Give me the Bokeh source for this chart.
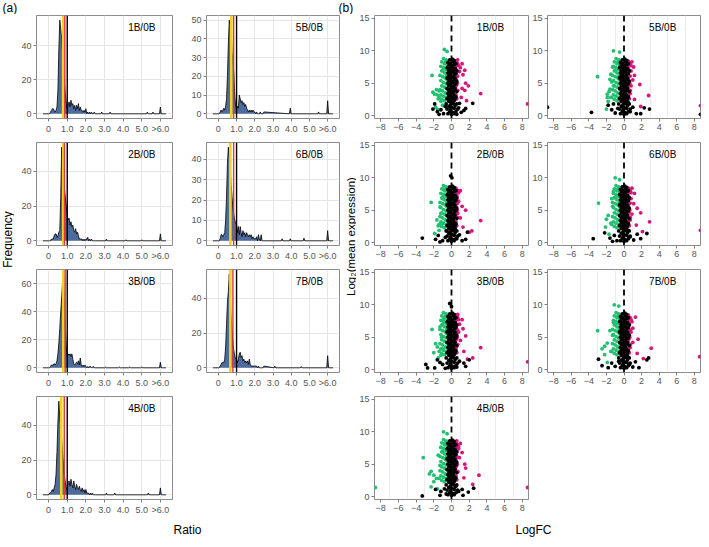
import math
from bokeh.plotting import figure
from bokeh.models import Range1d, FixedTicker, Label, Span
from bokeh.layouts import row, column
from bokeh.embed import file_html
from bokeh.resources import INLINE

FONT = "Liberation Sans"

# ---------------- (a) histogram data ----------------
ratio_bins = [round(0.05 * i, 2) for i in range(51)]  # bin centres 0.00 .. 2.50
ratio_ticks = [0, 1, 2, 3, 4, 5, 6]
ratio_tick_labels = ["0", "1.0", "2.0", "3.0", "4.0", "5.0", ">6.0"]

h1B = [0,0,1,2,3,3,2,1,2,4,14,38,55,50,44,36,26,18,12,6,3,5,7,4,8,5,6,3,5,2,5,3,6,2,4,2,2,1,2,1,3,0,1,0,1,0,1,0,0,1,0]
h5B = [0,0,1,2,1,2,3,2,4,8,20,38,50,48,45,33,28,22,10,4,3,4,3,10,8,6,7,5,6,4,5,3,2,1,2,1,2,1,2,1,1,0,1,0,0,0,1,0,0,0,1]
h2B = [0,0,0,1,1,1,3,4,4,2,3,5,6,25,54,48,38,30,25,20,15,12,13,9,11,8,9,6,5,7,4,5,3,1,1,1,1,0,1,0,1,1,2,0,1,0,1,0,0,0,0]
h6B = [0,0,1,3,3,2,3,4,10,22,38,46,42,36,28,22,16,13,10,9,8,4,7,3,7,4,2,5,3,4,2,4,3,2,3,2,3,1,2,1,1,1,2,0,3,1,0,3,0,0,0]
h3B = [0,0,1,2,2,2,3,2,3,5,10,18,28,40,50,62,67,45,28,15,8,10,9,10,8,10,6,3,2,3,4,3,5,2,7,2,1,2,1,2,1,0,1,0,1,1,0,0,1,0,0]
h7B = [0,0,1,2,3,3,3,5,12,25,38,44,54,40,30,22,15,10,7,5,5,3,5,8,9,6,7,4,5,3,4,3,4,2,5,2,1,1,1,1,1,1,1,0,1,0,0,0,0,0,1]
h4B = [0,1,1,2,3,2,4,6,12,25,42,54,44,40,32,24,17,11,7,4,3,7,8,5,9,6,4,8,5,3,6,4,3,5,3,2,4,2,3,1,3,1,1,1,0,1,0,1,0,0,0]

# sparse far-right bins (position, count)
spk1B_x = [2.85, 3.3, 5.3, 5.6, 6.0];        spk1B_y = [1, 1, 1, 1, 4]
spk5B_x = [3.95, 5.5, 6.0];                  spk5B_y = [3, 1, 7]
spk2B_x = [3.1, 4.15, 5.0, 6.0];             spk2B_y = [1, 0.6, 0.6, 4]
spk6B_x = [3.5, 3.95, 4.7, 6.0];             spk6B_y = [1, 1, 1.3, 5]
spk3B_x = [3.05, 3.8, 4.35, 5.0, 6.0];       spk3B_y = [0.6, 0.6, 0.6, 0.6, 4]
spk7B_x = [3.1, 4.55, 6.0];                  spk7B_y = [1, 0.7, 7]
spk4B_x = [3.1, 3.55, 5.35, 6.0];            spk4B_y = [1, 1, 1, 4]

# reference lines (yellow, red, black)
yellow_line = {"1B/0B": 0.78, "5B/0B": 0.71, "2B/0B": 0.79, "6B/0B": 0.66, "3B/0B": 0.79, "7B/0B": 0.66, "4B/0B": 0.68}
red_line    = {"1B/0B": 0.87, "5B/0B": 0.84, "2B/0B": 0.85, "6B/0B": 0.84, "3B/0B": 0.89, "7B/0B": 0.80, "4B/0B": 0.84}
black_line = 1.0

hist_yticks = {
    "1B/0B": [0, 20, 40], "5B/0B": [0, 10, 20, 30, 40, 50],
    "2B/0B": [0, 20, 40], "6B/0B": [0, 10, 20, 30, 40],
    "3B/0B": [0, 20, 40, 60], "7B/0B": [0, 20, 40], "4B/0B": [0, 20, 40],
}

# ---------------- (b) volcano data ----------------
logfc_ticks = [-8, -6, -4, -2, 0, 2, 4, 6, 8]
expr_ticks = [0, 5, 10, 15]

core_black = [(-0.2,8.6),(0.1,8.7),(0.3,8.5),(-0.4,8.2),(-0.1,8.1),(0.2,8.3),(0.5,8.0),(-0.3,7.8),(0.0,7.7),(0.3,7.9),
              (-0.5,7.4),(-0.2,7.3),(0.1,7.5),(0.4,7.3),(-0.3,7.0),(0.0,6.9),(0.3,7.1),(0.6,6.9),(-0.4,6.6),(-0.1,6.5),
              (0.2,6.7),(0.5,6.5),(-0.3,6.2),(0.0,6.1),(0.3,6.3),(-0.5,5.8),(-0.2,5.7),(0.1,5.9),(0.4,5.8),(-0.3,5.4),
              (0.0,5.3),(0.3,5.5),(0.6,5.3),(-0.4,5.0),(-0.1,4.9),(0.2,5.1),(0.5,4.9),(-0.3,4.6),(0.0,4.5),(0.3,4.7),
              (-0.5,4.2),(-0.2,4.1),(0.1,4.3),(0.4,4.2),(-0.3,3.8),(0.0,3.7),(0.3,3.9),(0.6,3.7),(-0.4,3.4),(-0.1,3.3),
              (0.2,3.5),(-0.3,3.0),(0.0,2.9),(0.3,3.1),(0.5,2.9),(-0.5,2.6),(-0.2,2.5),(0.1,2.7),(0.4,2.6),(-0.3,2.2),
              (0.0,2.1),(0.3,2.3),(-0.6,1.8),(-0.1,1.7),(0.2,1.9),(0.6,1.8),(-0.3,1.4),(0.0,1.3),(0.4,1.5),(-0.5,1.0),
              (-0.1,0.9),(0.3,1.1),(0.7,1.0),(-0.2,0.6),(0.1,0.5),(0.5,0.6),(-0.4,0.3),(0.0,0.2),(0.3,0.3)]
core_green = [(-0.9,8.8),(-0.6,8.6),(-1.1,8.3),(-0.8,8.0),(-0.5,7.9),(-1.2,7.6),(-0.9,7.4),(-0.6,7.1),(-1.1,6.9),(-0.8,6.6),
              (-0.5,6.4),(-1.3,6.2),(-1.0,6.0),(-0.7,5.8),(-0.5,5.5),(-1.2,5.4),(-0.9,5.1),(-0.6,4.9),(-1.1,4.6),(-0.8,4.4),
              (-0.5,4.1),(-1.3,4.0),(-1.0,3.8),(-0.7,3.5),(-1.2,3.2),(-0.9,3.0),(-0.6,2.8),(-1.1,2.5),(-0.8,2.3),(-1.4,2.8),
              (-0.6,6.0),(-0.7,8.3),(-1.0,7.0),(-0.5,3.4)]
core_magenta = [(0.5,8.4),(0.7,8.0),(0.45,7.5),(0.6,7.0),(0.45,6.5),(0.7,6.1),(0.5,5.6),(0.65,5.0),(0.45,4.4),(0.7,3.9),
                (0.5,3.2),(0.6,2.6),(0.8,7.7),(0.55,4.7)]

green_1B = [(-0.8,10.2),(-0.5,9.9),(-2.2,6.2),(-1.7,4.0),(-1.9,3.3),(-2.1,3.6),(-1.6,3.2),(-1.4,3.8),(-1.8,1.3),(-1.6,1.0),(-1.0,1.6),(-1.2,2.2),(-1.5,2.6)]
magenta_1B = [(0.7,8.6),(1.2,8.0),(1.5,7.0),(1.0,7.4),(1.3,6.3),(0.9,6.8),(1.6,5.0),(1.9,4.6),(1.2,4.2),(1.5,3.9),(3.3,3.4),(1.7,2.3),(1.1,2.8),(8.6,1.8)]
black_1B = [(-1.9,1.8),(-2.1,1.0),(-1.6,0.6),(-1.2,0.9),(-0.9,0.3),(-1.4,0.2),(0.8,1.2),(1.1,0.5),(1.4,0.8),(0.9,1.9),(2.4,1.9),(1.6,1.1),(0.6,0.2),(-0.7,1.4)]

green_5B = [(-1.2,10.0),(-0.5,9.8),(-3.0,6.0),(-1.9,3.3),(-1.6,4.1),(-2.0,1.0),(-1.8,2.2),(-1.5,2.8),(-1.7,3.7),(-1.4,5.2),(-1.5,6.4),(-1.3,7.5),(-1.6,5.6),(-1.2,4.6),(-1.9,2.8)]
magenta_5B = [(0.9,8.3),(1.1,7.5),(0.8,6.9),(1.2,6.2),(1.0,5.5),(0.8,4.6),(1.8,4.8),(2.8,3.1),(1.9,1.4),(1.2,2.5),(0.7,3.4),(8.7,1.55)]
black_5B = [(-3.7,0.5),(-1.8,1.6),(-1.4,0.9),(-1.0,0.4),(-0.7,1.1),(0.7,0.6),(1.0,1.3),(1.4,0.3),(1.9,0.3),(2.3,1.2),(2.9,1.0),(-8.7,1.3),(8.7,0.2),(-1.2,1.8),(0.5,2.0)]

green_2B = [(-2.3,6.2),(-1.65,3.5),(-1.9,1.4),(-1.5,2.6),(-1.2,4.5),(-1.0,6.8),(-0.9,8.2),(-1.3,5.5),(-1.1,3.0),(-1.4,1.9)]
magenta_2B = [(1.0,8.0),(0.6,7.3),(0.8,6.4),(1.2,5.6),(1.6,5.0),(0.7,4.5),(1.0,3.8),(3.3,3.4),(1.3,2.4),(2.3,1.8),(2.0,1.6)]
black_2B = [(-0.1,10.3),(0.05,10.0),(-3.3,0.7),(-1.8,0.5),(-1.5,1.1),(-1.0,0.3),(-0.7,0.8),(0.6,0.6),(0.9,1.2),(1.2,0.3),(1.6,0.5),(1.8,1.6),(0.4,2.2),(-0.5,1.8),(-1.3,0.1)]

green_6B = [(-1.0,10.0),(-0.5,9.7),(-2.9,6.1),(-2.0,3.6),(-1.8,4.2),(-2.1,2.4),(-1.7,1.3),(-1.5,3.0),(-1.3,5.6),(-1.4,6.8),(-1.2,7.9)]
magenta_6B = [(0.9,8.4),(1.2,7.6),(0.8,6.8),(1.1,6.0),(1.5,5.3),(0.9,4.4),(1.9,4.6),(2.9,3.2),(1.4,2.7),(2.1,1.7),(0.7,3.5),(8.7,1.9)]
black_6B = [(-3.5,0.6),(-2.2,1.5),(-1.6,0.7),(-1.1,1.1),(-0.8,0.3),(0.7,0.9),(1.1,0.4),(1.5,1.3),(1.9,0.6),(2.6,1.4),(-1.3,0.2),(0.5,1.9)]

green_3B = [(-2.2,6.2),(-1.8,4.0),(-1.6,3.5),(-2.0,2.6),(-1.2,2.2),(-1.5,1.8),(-1.1,5.0),(-0.9,7.8),(-1.3,6.6),(-1.0,3.2)]
magenta_3B = [(0.7,8.5),(1.2,7.7),(0.9,7.0),(1.3,6.3),(0.8,5.8),(1.6,5.2),(1.0,4.5),(0.6,3.6),(3.3,3.4),(1.4,2.8),(2.4,1.8),(1.8,1.6),(8.6,1.2)]
black_3B = [(-0.2,10.2),(0.0,9.7),(-2.9,0.8),(-2.7,0.25),(-1.9,0.25),(-1.6,1.5),(-1.0,0.8),(-0.7,0.2),(0.6,0.4),(0.9,1.3),(1.4,1.0),(1.6,0.5),(2.0,1.5),(-1.3,1.1)]

green_7B = [(-1.1,10.0),(-0.6,9.8),(-3.0,6.0),(-2.5,3.2),(-2.2,3.6),(-1.9,4.1),(-2.2,2.3),(-1.9,1.1),(-1.5,2.8),(-1.3,5.3),(-1.2,7.3),(-1.6,6.0)]
magenta_7B = [(1.3,8.1),(0.9,7.4),(1.0,6.4),(0.8,5.8),(1.6,4.7),(1.0,4.2),(3.1,3.3),(2.2,1.7),(1.5,2.5),(0.7,3.4),(8.6,2.0)]
black_7B = [(-2.9,1.6),(-2.5,0.6),(-1.8,0.3),(-1.4,1.0),(-1.0,0.5),(-0.6,1.3),(0.6,0.8),(1.0,0.4),(1.3,1.2),(1.7,0.3),(2.6,1.5),(2.8,1.8),(0.4,2.1)]

green_4B = [(-0.9,10.0),(-0.5,9.7),(-3.2,6.0),(-2.3,3.9),(-2.5,3.5),(-2.0,3.3),(-2.0,2.3),(-2.3,1.5),(-1.7,2.8),(-1.6,1.2),(-1.3,4.8),(-1.5,6.4),(-1.2,7.6),(-8.6,1.4)]
magenta_4B = [(0.6,8.6),(1.0,8.2),(0.8,7.4),(1.2,6.8),(0.9,6.0),(1.5,5.0),(1.6,4.4),(3.1,3.3),(2.4,1.9),(1.4,2.9),(0.7,3.8),(8.6,1.4)]
black_4B = [(-3.3,0.1),(-1.8,1.1),(-1.2,0.8),(-0.8,1.2),(-0.6,0.4),(0.8,0.8),(1.2,1.1),(1.3,0.2),(1.9,0.7),(2.5,1.3),(-1.3,0.2),(0.5,1.6)]

# ---------------- styling ----------------
FILL_BLUE = "#4E6C9B"
YELLOW = "#F4D21F"
RED = "#E8323C"
GREEN = "#23C072"
MAGENTA = "#D3177B"
GRID = "#E6E6E6"
FRAME = "#8C8C8C"
TICK_TXT = "#555555"
FRAME_H = 103


def base_fig(fw, left, right, bottom, xr, yr):
    p = figure(frame_width=fw, frame_height=FRAME_H, min_border_left=left, min_border_right=right,
               min_border_top=1, min_border_bottom=bottom, x_range=xr, y_range=yr,
               toolbar_location=None, tools="", output_backend="svg")
    p.outline_line_color = FRAME
    p.outline_line_width = 1
    p.background_fill_color = "white"
    p.border_fill_color = "white"
    for ax in p.axis:
        ax.axis_line_color = None
        ax.major_tick_line_color = "#808080"
        ax.major_tick_out = 3
        ax.major_tick_in = 0
        ax.minor_tick_line_color = None
        ax.major_label_text_color = TICK_TXT
        ax.major_label_text_font_size = "9px"
        ax.major_label_text_font = FONT
        ax.major_label_standoff = 2
    return p


def freq_polygon(counts, sx, sy):
    xs = [-0.3] + list(ratio_bins)
    ys = [0] + list(counts)
    for x, h in zip(sx, sy):
        xs += [x - 0.05, x, x + 0.05]
        ys += [0, h, 0]
    xs.append(6.3)
    ys.append(0)
    return xs, ys


def hist_panel(name, counts, sx, sy, fw, left, right, bottom):
    m = max(max(counts), max(sy))
    p = base_fig(fw, left, right, bottom, Range1d(-0.65, 6.65), Range1d(-0.05 * m, 1.05 * m))
    p.xaxis.ticker = FixedTicker(ticks=ratio_ticks)
    p.xaxis.major_label_overrides = {t: lab for t, lab in zip(ratio_ticks, ratio_tick_labels)}
    p.yaxis.ticker = FixedTicker(ticks=hist_yticks[name])
    p.xgrid.grid_line_color = GRID
    p.ygrid.grid_line_color = GRID
    xs, ys = freq_polygon(counts, sx, sy)
    p.varea(x=xs, y1=[0] * len(xs), y2=ys, fill_color=FILL_BLUE, fill_alpha=1)
    p.line(xs, ys, line_color="black", line_width=0.8)
    p.add_layout(Span(location=yellow_line[name], dimension="height", line_color=YELLOW, line_width=2.6))
    p.add_layout(Span(location=red_line[name], dimension="height", line_color=RED, line_width=1.4))
    p.add_layout(Span(location=black_line, dimension="height", line_color="black", line_width=1.4))
    p.add_layout(Label(x=5.0, y=1.05 * m, y_offset=-6, text=name, text_align="center", text_baseline="top",
                       text_font_size="10px", text_font=FONT, text_color="black"))
    return p


def volc_panel(name, g, mg, b, fw, left, right, bottom):
    p = base_fig(fw, left, right, bottom, Range1d(-8.7, 8.7), Range1d(-0.45, 15.45))
    p.xaxis.ticker = FixedTicker(ticks=logfc_ticks)
    p.yaxis.ticker = FixedTicker(ticks=expr_ticks)
    p.xgrid.ticker = FixedTicker(ticks=[-7, -5, -3, -1, 1, 3, 5, 7])
    p.xgrid.grid_line_color = "#EDEDED"
    p.ygrid.visible = False
    p.add_layout(Span(location=0, dimension="height", line_color="black", line_width=1.8,
                      line_dash="6 4", level="underlay"))
    gg = core_green + g
    mm = core_magenta + mg
    bb = core_black + b
    p.scatter([v[0] for v in gg], [v[1] for v in gg], size=3.8, fill_color=GREEN, line_color=None)
    p.scatter([v[0] for v in mm], [v[1] for v in mm], size=3.8, fill_color=MAGENTA, line_color=None)
    p.scatter([v[0] for v in bb], [v[1] for v in bb], size=3.8, fill_color="black", line_color=None)
    p.add_layout(Label(x=4.4, y=15.45, y_offset=-6, text=name, text_align="center", text_baseline="top",
                       text_font_size="10px", text_font=FONT, text_color="black"))
    return p


def text_strip(w, h, items):
    p = figure(width=w, height=h, x_range=Range1d(0, w), y_range=Range1d(h, 0), min_border=0,
               x_axis_location=None, y_axis_location=None, toolbar_location=None, tools="",
               output_backend="svg")
    p.outline_line_color = None
    p.grid.visible = False
    p.background_fill_color = "white"
    p.border_fill_color = "white"
    for (x, y, t, ang, size, align) in items:
        p.add_layout(Label(x=x, y=y, text=t, angle=ang, text_font_size=size, text_align=align,
                           text_baseline="middle", text_font=FONT, text_color="black"))
    return p


# histogram panels
HL = dict(fw=136, left=22, right=4)
HR = dict(fw=133, left=30, right=4)
h_1B = hist_panel("1B/0B", h1B, spk1B_x, spk1B_y, bottom=23, **HL)
h_5B = hist_panel("5B/0B", h5B, spk5B_x, spk5B_y, bottom=23, **HR)
h_2B = hist_panel("2B/0B", h2B, spk2B_x, spk2B_y, bottom=23, **HL)
h_6B = hist_panel("6B/0B", h6B, spk6B_x, spk6B_y, bottom=23, **HR)
h_3B = hist_panel("3B/0B", h3B, spk3B_x, spk3B_y, bottom=23, **HL)
h_7B = hist_panel("7B/0B", h7B, spk7B_x, spk7B_y, bottom=23, **HR)
h_4B = hist_panel("4B/0B", h4B, spk4B_x, spk4B_y, bottom=20, **HL)

VL = dict(fw=154, left=18, right=1)
VR = dict(fw=153, left=16, right=2)
v_1B = volc_panel("1B/0B", green_1B, magenta_1B, black_1B, bottom=23, **VL)
v_5B = volc_panel("5B/0B", green_5B, magenta_5B, black_5B, bottom=23, **VR)
v_2B = volc_panel("2B/0B", green_2B, magenta_2B, black_2B, bottom=23, **VL)
v_6B = volc_panel("6B/0B", green_6B, magenta_6B, black_6B, bottom=23, **VR)
v_3B = volc_panel("3B/0B", green_3B, magenta_3B, black_3B, bottom=23, **VL)
v_7B = volc_panel("7B/0B", green_7B, magenta_7B, black_7B, bottom=23, **VR)
v_4B = volc_panel("4B/0B", green_4B, magenta_4B, black_4B, bottom=20, **VL)

hist_col = column(row(h_1B, h_5B), row(h_2B, h_6B), row(h_3B, h_7B), row(h_4B))
volc_col = column(row(v_1B, v_5B), row(v_2B, v_6B), row(v_3B, v_7B), row(v_4B))

BODY_H = 127 * 3 + 124
left_strip = text_strip(14, BODY_H, [(7, 225, "Frequency", math.pi / 2, "12px", "center")])
mid_strip = text_strip(13, BODY_H, [(7, 222, "Log\u2082(mean expression)", math.pi / 2, "11.5px", "center")])
top_strip = text_strip(700, 14, [(2, 7, "(a)", 0, "12px", "left"), (338, 7, "(b)", 0, "12px", "left")])
bot_strip = text_strip(700, 20, [(187, 10, "Ratio", 0, "12px", "center"), (533, 10, "LogFC", 0, "12px", "center")])

layout = column(top_strip, row(left_strip, hist_col, mid_strip, volc_col), bot_strip)

open("out.html", "w").write(file_html(layout, INLINE))
